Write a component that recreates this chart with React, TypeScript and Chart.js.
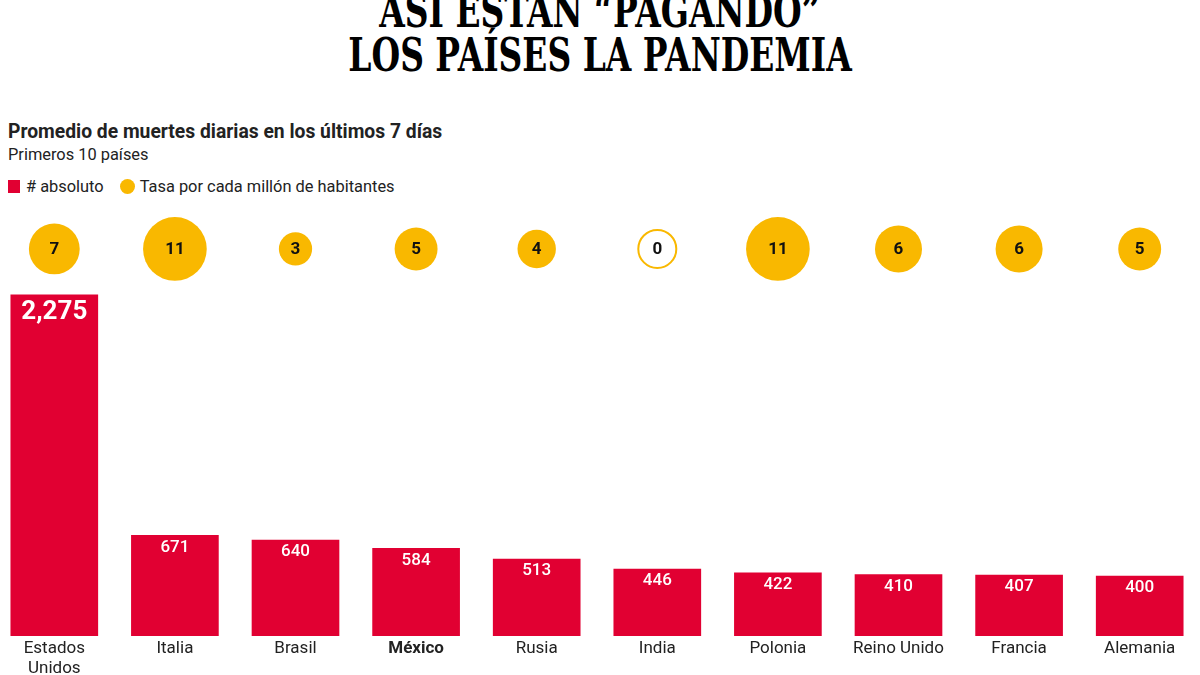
import React, { useEffect, useRef } from "react";
import { Chart, registerables } from "chart.js";

Chart.register(...registerables);

const countries = ["Estados Unidos", "Italia", "Brasil", "México", "Rusia", "India", "Polonia", "Reino Unido", "Francia", "Alemania"];
const tickLabels: (string | string[])[] = [["Estados", "Unidos"], "Italia", "Brasil", "México", "Rusia", "India", "Polonia", "Reino Unido", "Francia", "Alemania"];
const absoluteDeaths = [2275, 671, 640, 584, 513, 446, 422, 410, 407, 400];
const ratePerMillion = [7, 11, 3, 5, 4, 0, 11, 6, 6, 5];
const highlightCountry = "México";

const RED = "#E10032";
const YELLOW = "#F9B800";
const SANS = "Roboto, 'Noto Sans', sans-serif";
const BUBBLE_ROW = 0.898;

const labelPlugin = {
  id: "valueLabels",
  afterDatasetsDraw(chart: any) {
    const ctx = chart.ctx;
    ctx.save();
    ctx.textAlign = "center";
    ctx.textBaseline = "middle";
    const barMeta = chart.getDatasetMeta(0);
    barMeta.data.forEach((el: any, i: number) => {
      const v = absoluteDeaths[i];
      const big = i === 0;
      ctx.fillStyle = "#ffffff";
      ctx.font = big ? `bold 26px ${SANS}` : `500 17px ${SANS}`;
      ctx.fillText(v.toLocaleString("en-US"), el.x, el.y + (big ? 18 : 12));
    });
    const bubMeta = chart.getDatasetMeta(1);
    bubMeta.data.forEach((el: any, i: number) => {
      ctx.fillStyle = "#111111";
      ctx.font = `bold 17px ${SANS}`;
      ctx.fillText(String(ratePerMillion[i]), el.x, el.y + 1);
    });
    ctx.restore();
  },
};

export default function App() {
  const ref = useRef<HTMLCanvasElement | null>(null);
  useEffect(() => {
    if (!ref.current) return;
    const chart = new Chart(ref.current, {
      type: "bar",
      data: {
        labels: tickLabels,
        datasets: [
          {
            type: "bar",
            label: "# absoluto",
            data: absoluteDeaths,
            backgroundColor: RED,
            barThickness: 87,
            yAxisID: "y",
            order: 2,
          } as any,
          {
            type: "bubble",
            label: "Tasa por cada millón de habitantes",
            data: ratePerMillion.map((v, i) => ({
              x: tickLabels[i],
              y: BUBBLE_ROW,
              r: v === 0 ? 19 : 9.6 * Math.sqrt(v),
            })),
            backgroundColor: ratePerMillion.map((v) => (v === 0 ? "#ffffff" : YELLOW)),
            borderColor: YELLOW,
            borderWidth: ratePerMillion.map((v) => (v === 0 ? 2 : 0)),
            hoverRadius: 0,
            yAxisID: "yb",
            order: 1,
          } as any,
        ],
      },
      options: {
        animation: false,
        responsive: true,
        maintainAspectRatio: false,
        layout: { padding: 0, autoPadding: false },
        plugins: { legend: { display: false }, tooltip: { enabled: false }, title: { display: false } },
        scales: {
          x: {
            type: "category",
            offset: true,
            grid: { display: false, drawTicks: false },
            border: { display: false },
            ticks: {
              padding: 3,
              maxRotation: 0,
              autoSkip: false,
              color: "#222222",
              font: (c: any) => ({
                family: SANS,
                size: 17,
                lineHeight: 1.15,
                weight: countries[c.index] === highlightCountry ? "bold" : "normal",
              }),
            },
            afterFit: (axis: any) => {
              axis.height = 39;
            },
          },
          y: { display: false, min: 0, max: 2875 },
          yb: { display: false, min: 0, max: 1 },
        },
      },
      plugins: [labelPlugin],
    });
    return () => chart.destroy();
  }, []);

  return (
    <div style={{ position: "fixed", left: 0, top: 0, width: 1200, height: 675, background: "#fff", overflow: "hidden" }}>
      <div
        style={{
          position: "absolute",
          left: 0,
          width: 1200,
          top: -11,
          textAlign: "center",
          fontFamily: "'DejaVu Serif', serif",
          fontWeight: "bold",
          fontSize: 47,
          lineHeight: "44px",
          color: "#000",
        }}
      >
        <div style={{ transform: "scaleX(0.7)" }}>ASÍ ESTÁN “PAGANDO”</div>
        <div style={{ transform: "scaleX(0.7)" }}>LOS PAÍSES LA PANDEMIA</div>
      </div>
      <div style={{ position: "absolute", left: 8, top: 120, fontFamily: SANS, fontWeight: "bold", fontSize: 19.3, color: "#222", whiteSpace: "nowrap" }}>
        Promedio de muertes diarias en los últimos 7 días
      </div>
      <div style={{ position: "absolute", left: 8, top: 145, fontFamily: SANS, fontSize: 16.4, color: "#222", whiteSpace: "nowrap" }}>
        Primeros 10 países
      </div>
      <div style={{ position: "absolute", left: 8, top: 177, fontFamily: SANS, fontSize: 16.4, color: "#222", whiteSpace: "nowrap", display: "flex", alignItems: "center" }}>
        <span style={{ display: "inline-block", width: 12, height: 13, background: RED, marginRight: 6 }} />
        <span>{"# absoluto"}</span>
        <span style={{ display: "inline-block", width: 15, height: 15, borderRadius: 8, background: YELLOW, marginLeft: 16, marginRight: 5 }} />
        <span>Tasa por cada millón de habitantes</span>
      </div>
      <div style={{ position: "absolute", left: -6, top: 205, width: 1206, height: 470 }}>
        <canvas ref={ref} />
      </div>
    </div>
  );
}
